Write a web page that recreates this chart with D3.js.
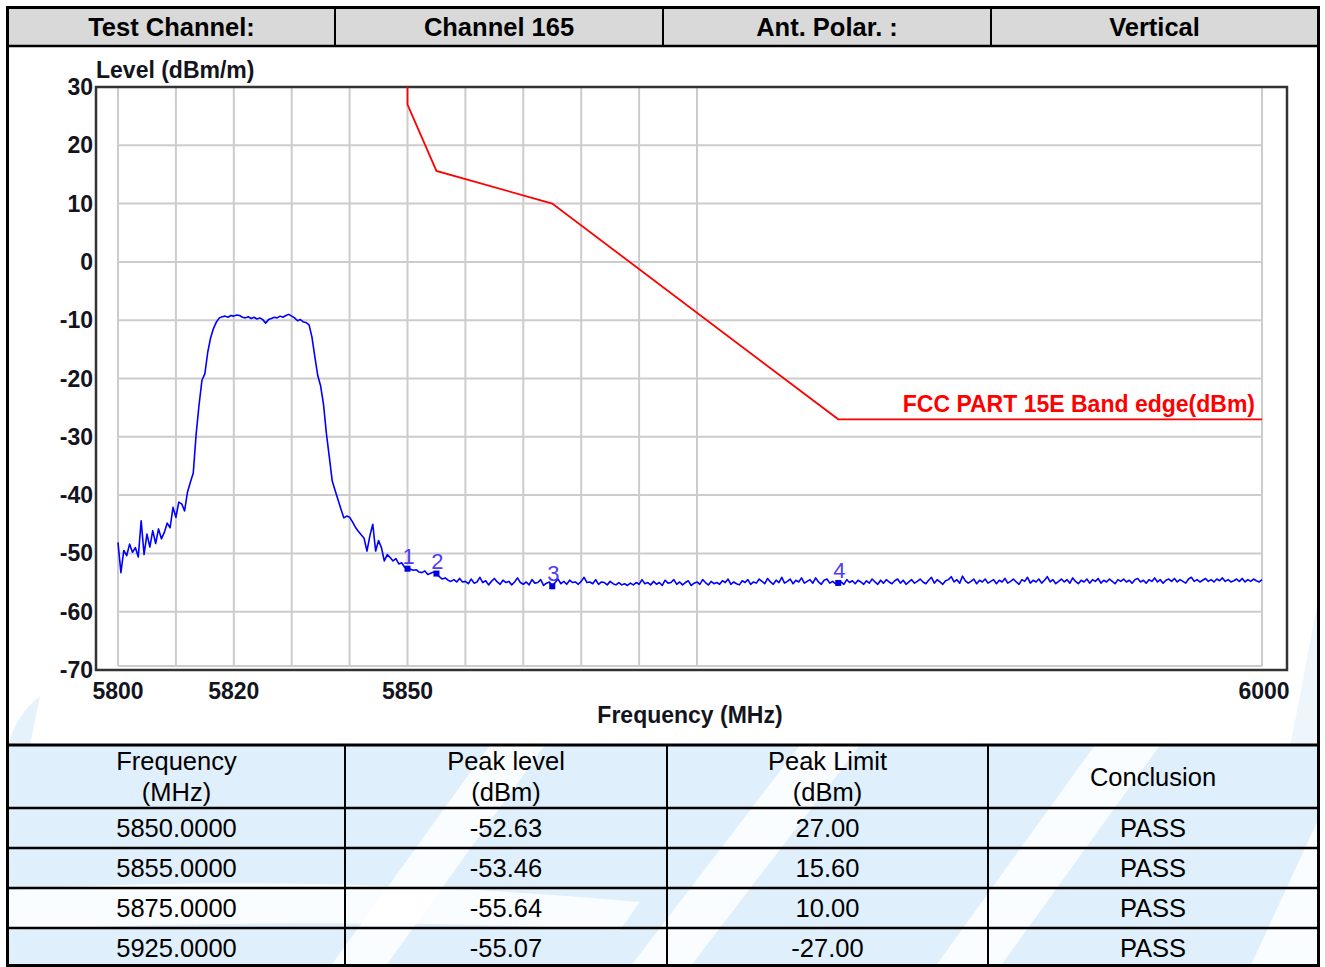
<!DOCTYPE html>
<html><head><meta charset="utf-8">
<script src="https://cdn.jsdelivr.net/npm/d3@7"></script>
<style>
body{margin:0;background:#fff;}
svg{display:block;font-family:"Liberation Sans",Arial,sans-serif;}
</style>
</head><body>
<svg id="c" width="1325" height="967"></svg>
<script>
// ---------------- data ----------------
const headerCells = ["Test Channel:", "Channel 165", "Ant. Polar. :", "Vertical"];
const yTicks = [30, 20, 10, 0, -10, -20, -30, -40, -50, -60, -70];
const xTickLabels = [5800, 5820, 5850, 6000];
const xGridFreqs = [5800, 5810, 5820, 5830, 5840, 5850, 5860, 5870, 5880, 5890, 5900, 6000];
const yGridLevels = [20, 10, 0, -10, -20, -30, -40, -50, -60];

const traceStart = 5800, traceStep = 0.5;
const traceLevels = [
  -48.1,-53.3,-49.5,-50.4,-48.4,-49.8,-49.0,-50.6,-44.4,-50.2,
  -46.7,-48.9,-46.1,-48.3,-45.8,-47.5,-46.4,-44.8,-45.6,-42.1,
  -43.8,-41.2,-41.5,-42.7,-39.5,-37.8,-36.2,-29.5,-24.5,-20.3,
  -19.2,-15.5,-13.0,-11.4,-10.3,-9.6,-9.4,-9.3,-9.5,-9.2,
  -9.3,-9.1,-9.2,-9.5,-9.6,-9.4,-9.7,-9.5,-9.8,-9.6,
  -9.9,-10.5,-9.9,-9.7,-9.5,-9.6,-9.3,-9.5,-9.2,-9.0,
  -9.3,-9.6,-10.1,-9.9,-10.3,-10.4,-10.8,-12.9,-16.3,-19.5,
  -21.3,-24.5,-29.5,-33.5,-37.6,-39.2,-40.8,-42.4,-43.9,-43.6,
  -43.8,-44.6,-45.5,-46.2,-46.8,-47.4,-49.6,-47.0,-45.0,-49.6,
  -47.8,-49.0,-51.3,-50.2,-50.7,-51.3,-50.9,-51.8,-51.6,-52.4,
  -52.63,-52.7,-52.9,-52.8,-53.2,-53.3,-53.0,-53.6,-53.4,-53.2,
  -53.46,-54.0,-54.4,-54.2,-54.6,-54.8,-54.5,-54.9,-54.3,-54.9,
  -54.8,-55.2,-54.4,-55.1,-54.9,-54.1,-55.0,-54.7,-55.4,-54.8,
  -54.3,-54.9,-55.3,-54.6,-55.0,-54.8,-55.4,-54.9,-54.2,-55.0,
  -55.3,-54.9,-55.4,-54.5,-55.1,-55.0,-54.5,-55.5,-55.1,-54.9,
  -55.64,-55.0,-54.4,-55.2,-54.8,-55.3,-54.6,-55.0,-54.9,-55.3,
  -54.8,-54.1,-55.0,-54.9,-55.2,-54.5,-55.3,-54.9,-55.0,-55.4,
  -54.8,-55.2,-55.4,-55.0,-55.4,-55.2,-55.5,-55.1,-55.4,-55.0,
  -55.3,-54.5,-55.2,-55.0,-55.4,-54.8,-55.3,-55.0,-55.5,-54.6,
  -55.1,-55.0,-54.5,-55.3,-54.9,-55.4,-55.0,-54.7,-55.5,-55.1,
  -54.9,-55.3,-54.5,-55.0,-55.4,-54.8,-55.2,-55.0,-55.3,-54.7,
  -55.0,-54.4,-55.3,-54.9,-55.2,-55.4,-54.7,-55.0,-54.5,-55.3,
  -54.9,-55.1,-54.4,-54.8,-55.2,-54.3,-54.9,-55.3,-54.6,-55.0,
  -54.1,-55.1,-54.8,-54.4,-55.2,-54.6,-54.9,-54.2,-55.1,-54.8,
  -54.5,-55.1,-54.2,-54.9,-55.3,-54.6,-54.4,-55.1,-54.8,-55.2,
  -55.07,-54.9,-55.3,-54.5,-55.0,-54.7,-55.2,-54.6,-54.9,-55.3,
  -54.7,-55.1,-54.4,-54.9,-55.3,-54.6,-55.1,-54.5,-54.9,-55.2,
  -54.7,-54.4,-55.1,-54.6,-55.3,-54.9,-54.5,-55.1,-54.8,-54.4,
  -54.9,-55.2,-54.6,-54.1,-55.1,-54.5,-54.9,-55.3,-54.7,-54.5,
  -54.0,-54.9,-54.5,-55.1,-53.9,-54.7,-55.1,-54.8,-54.4,-55.2,
  -54.6,-54.9,-54.4,-55.1,-54.8,-54.5,-55.2,-54.6,-54.9,-54.3,
  -55.1,-54.8,-54.4,-54.9,-55.3,-54.5,-54.8,-54.1,-55.1,-54.6,
  -54.9,-54.4,-55.1,-54.6,-54.0,-54.9,-54.5,-55.2,-54.8,-54.4,
  -54.9,-54.5,-55.1,-54.2,-54.8,-55.2,-54.6,-54.9,-54.4,-55.1,
  -54.5,-54.8,-54.3,-55.1,-54.6,-54.9,-54.4,-54.8,-55.2,-54.5,
  -54.8,-54.4,-54.9,-54.6,-55.1,-54.5,-54.3,-54.9,-54.6,-55.1,
  -54.5,-54.8,-54.2,-54.9,-54.5,-55.1,-54.6,-54.4,-54.8,-54.3,
  -54.9,-54.5,-54.8,-55.1,-54.4,-54.1,-54.8,-54.5,-54.9,-54.6,
  -54.3,-54.8,-54.5,-54.9,-54.4,-54.7,-54.2,-54.8,-54.5,-54.9,
  -54.7,-54.4,-54.8,-54.3,-54.9,-54.5,-54.8,-54.4,-54.7,-54.9,
  -54.5
];

const limitFreqs  = [5850, 5850, 5855, 5875, 5925, 6000];
const limitLevels = [30,   27,   15.6, 10,   -27,  -27];
const limitLabel = "FCC PART 15E Band edge(dBm)";

const markerIds     = ["1", "2", "3", "4"];
const markerFreqs   = [5850, 5855, 5875, 5925];
const markerLevels  = [-52.63, -53.46, -55.64, -55.07];
const markerLimits  = [27.00, 15.60, 10.00, -27.00];
const markerResults = ["PASS", "PASS", "PASS", "PASS"];
const tableHeaders  = [["Frequency", "(MHz)"], ["Peak level", "(dBm)"], ["Peak Limit", "(dBm)"], ["Conclusion"]];

// ---------------- drawing ----------------
const svg = d3.select("#c");
const x = d3.scaleLinear().domain([5800, 5900, 6000]).range([118, 697, 1262]);
const y = d3.scaleLinear().domain([-70, 30]).range([670, 87]);
const gridBottom = 666, gridRight = 1262;

// background watermark (decorative)
const defs = svg.append("defs");
defs.append("clipPath").attr("id", "tblClip").append("rect")
  .attr("x", 8).attr("y", 745).attr("width", 1310).attr("height", 222);
const wm = svg.append("g").attr("clip-path", "url(#tblClip)");
wm.append("rect").attr("x", 8).attr("y", 745).attr("width", 1310).attr("height", 222).attr("fill", "#dfeffb");
const bands = [
  "M330,967 L385,967 L545,745 L490,745 Z",
  "M630,967 L690,967 L860,745 L800,745 Z",
  "M935,967 L1000,967 L1160,745 L1095,745 Z",
  "M8,890 C200,878 420,882 640,902 L620,930 C420,920 200,922 8,930 Z",
  "M1250,967 L1318,967 L1318,820 Z"
];
wm.selectAll("path.band").data(bands).join("path").attr("class", "band")
  .attr("d", d => d).attr("fill", "#ffffff").attr("opacity", 0.85);
svg.append("path").attr("d", "M8,745 C14,725 24,708 40,696 L30,745 Z").attr("fill", "#e6f2fb");
svg.append("path").attr("d", "M1290,745 C1300,700 1310,640 1318,600 L1318,745 Z").attr("fill", "#eef6fc");

// header row
const colEdges = [8, 335, 663, 991, 1318];
svg.append("rect").attr("x", 8).attr("y", 8).attr("width", 1310).attr("height", 38).attr("fill", "#d9d9d9");
svg.selectAll("text.hdr").data(headerCells).join("text").attr("class", "hdr")
  .attr("x", (d, i) => (colEdges[i] + colEdges[i + 1]) / 2).attr("y", 27)
  .attr("text-anchor", "middle").attr("dominant-baseline", "central")
  .attr("font-size", 25.5).attr("font-weight", "bold").attr("fill", "#000").text(d => d);

// grid
const grid = svg.append("g");
grid.selectAll("line.vg").data(xGridFreqs).join("line").attr("class", "vg")
  .attr("x1", d => x(d)).attr("x2", d => x(d)).attr("y1", y(30)).attr("y2", gridBottom)
  .attr("stroke", "#cccccc").attr("stroke-width", 2);
grid.selectAll("line.hg").data(yGridLevels).join("line").attr("class", "hg")
  .attr("x1", x(5800)).attr("x2", gridRight).attr("y1", d => y(d)).attr("y2", d => y(d))
  .attr("stroke", "#cccccc").attr("stroke-width", 2);
grid.append("line").attr("x1", x(5800)).attr("x2", gridRight).attr("y1", gridBottom).attr("y2", gridBottom)
  .attr("stroke", "#cccccc").attr("stroke-width", 2);

// frame
svg.append("path").attr("d", "M96,87 L1287,87 L1287,670 L96,670 Z")
  .attr("fill", "none").attr("stroke", "#333").attr("stroke-width", 2.5);

// y tick labels
svg.selectAll("text.yt").data(yTicks).join("text").attr("class", "yt")
  .attr("x", 93).attr("y", d => y(d)).attr("text-anchor", "end").attr("dominant-baseline", "central")
  .attr("font-size", 23).attr("font-weight", "bold").attr("fill", "#141420").text(d => d);
// x tick labels
svg.selectAll("text.xt").data(xTickLabels).join("text").attr("class", "xt")
  .attr("x", d => x(d) + (d === 6000 ? 2 : 0)).attr("y", 691).attr("text-anchor", "middle").attr("dominant-baseline", "central")
  .attr("font-size", 23).attr("font-weight", "bold").attr("fill", "#141420").text(d => d);
// axis titles
svg.append("text").attr("x", 96).attr("y", 78).attr("font-size", 23).attr("font-weight", "bold")
  .attr("fill", "#141420").text("Level (dBm/m)");
svg.append("text").attr("x", 690).attr("y", 723).attr("text-anchor", "middle").attr("font-size", 23)
  .attr("font-weight", "bold").attr("fill", "#141420").text("Frequency (MHz)");

// limit line
const limitData = limitFreqs.map((f, i) => [f, limitLevels[i]]);
svg.append("path").datum(limitData)
  .attr("d", d3.line().x(d => x(d[0])).y(d => y(d[1])))
  .attr("fill", "none").attr("stroke", "#ff0000").attr("stroke-width", 1.8);
svg.append("text").attr("x", 1255).attr("y", 412).attr("text-anchor", "end")
  .attr("font-size", 23).attr("font-weight", "bold").attr("fill", "#ff0000").text(limitLabel);

// trace
const traceData = traceLevels.map((v, i) => [traceStart + i * traceStep, v]);
svg.append("path").datum(traceData)
  .attr("d", d3.line().x(d => x(d[0])).y(d => y(d[1])))
  .attr("fill", "none").attr("stroke", "#0000ff").attr("stroke-width", 1.6).attr("stroke-linejoin", "round");

// markers
const mk = markerIds.map((id, i) => ({id, f: markerFreqs[i], v: markerLevels[i]}));
svg.selectAll("rect.mk").data(mk).join("rect").attr("class", "mk")
  .attr("x", d => x(d.f) - 3).attr("y", d => y(d.v) - 3).attr("width", 6).attr("height", 6).attr("fill", "#0000dd");
svg.selectAll("text.mk").data(mk).join("text").attr("class", "mk")
  .attr("x", d => x(d.f) + 1).attr("y", d => y(d.v) - 5).attr("text-anchor", "middle")
  .attr("font-size", 22).attr("fill", "#4f3cf5").text(d => d.id);

// results table
const tColEdges = [8, 345, 667, 988, 1318];
const rowEdges = [808, 848, 888, 928, 967];
const tbl = svg.append("g").attr("font-size", 25.5).attr("fill", "#000");
tableHeaders.forEach((lines, c) => {
  const cx = (tColEdges[c] + tColEdges[c + 1]) / 2;
  const t = tbl.append("text").attr("text-anchor", "middle");
  if (lines.length === 2) {
    t.append("tspan").attr("x", cx).attr("y", 770).text(lines[0]);
    t.append("tspan").attr("x", cx).attr("y", 801).text(lines[1]);
  } else {
    t.append("tspan").attr("x", cx).attr("y", 786).text(lines[0]);
  }
});
const rows = markerFreqs.map((f, i) => [f.toFixed(4), markerLevels[i].toFixed(2), markerLimits[i].toFixed(2), markerResults[i]]);
rows.forEach((r, ri) => {
  r.forEach((val, c) => {
    tbl.append("text").attr("x", (tColEdges[c] + tColEdges[c + 1]) / 2)
      .attr("y", (rowEdges[ri] + rowEdges[ri + 1]) / 2 + 9).attr("text-anchor", "middle").text(val);
  });
});

// table and outer lines
const L = svg.append("g").attr("stroke", "#000");
L.append("line").attr("x1", 8).attr("x2", 1318).attr("y1", 46).attr("y2", 46).attr("stroke-width", 2.5);
[335, 663, 991].forEach(xx => L.append("line").attr("x1", xx).attr("x2", xx).attr("y1", 8).attr("y2", 46).attr("stroke-width", 2));
L.append("line").attr("x1", 8).attr("x2", 1318).attr("y1", 745).attr("y2", 745).attr("stroke-width", 3);
rowEdges.slice(0, 4).forEach(yy => L.append("line").attr("x1", 8).attr("x2", 1318).attr("y1", yy).attr("y2", yy).attr("stroke-width", 2.5));
[345, 667, 988].forEach(xx => L.append("line").attr("x1", xx).attr("x2", xx).attr("y1", 745).attr("y2", 967).attr("stroke-width", 2));
svg.append("rect").attr("x", 7.5).attr("y", 7.5).attr("width", 1311).attr("height", 958)
  .attr("fill", "none").attr("stroke", "#000").attr("stroke-width", 3);
</script>
</body></html>
